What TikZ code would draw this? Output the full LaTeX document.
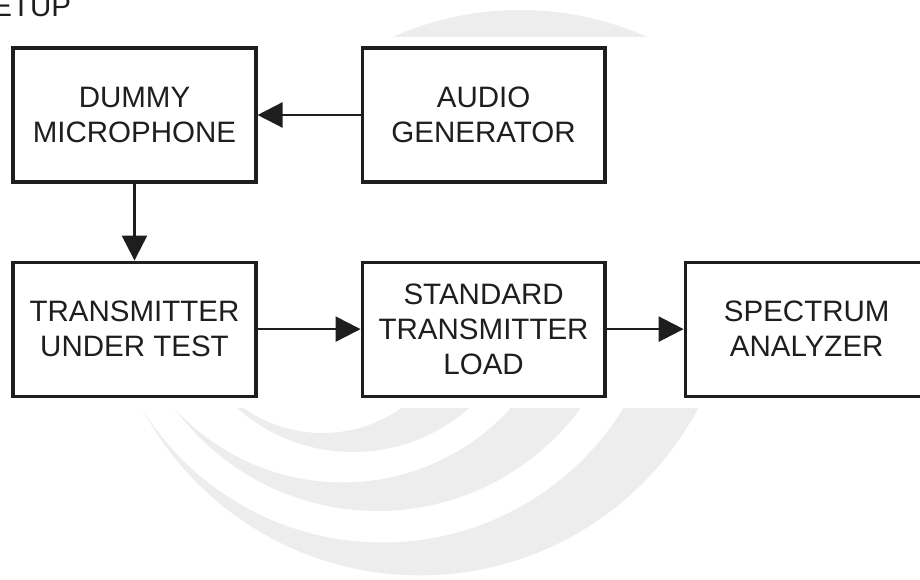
\documentclass[tikz,border=0pt]{standalone}
\usepackage{fontspec}
\setmainfont{Liberation Sans}
\usepackage{tikz}
\usetikzlibrary{positioning,arrows.meta}
\definecolor{ink}{HTML}{1E1E1E}
\definecolor{wmark}{HTML}{EDEDED}

\begin{document}
\begin{tikzpicture}[x=0.02cm,y=-0.02cm,node distance=1.54cm and 2.06cm,
  box/.style={draw=ink,line width=1.8pt,minimum width=4.86cm,minimum height=2.68cm,align=center,font=\fontsize{16.8}{20}\selectfont,text=ink},
  arr/.style={-{Triangle[length=5mm,width=5mm]},line width=1.4pt,ink}]
\clip (0,0) rectangle (920,580);
% watermark behind the set-up
\begin{scope}
\clip (0,409) rectangle (920,580);
\fill[wmark,even odd rule] (353,276.7) circle[radius=175.3] (322.5,296) circle[radius=137];
\fill[wmark,even odd rule] (377.5,259) circle[radius=252] (342.5,254.5) circle[radius=227.9];
\fill[wmark,even odd rule] (420,260.4) circle[radius=315] (382.5,259.2) circle[radius=283.3];
\end{scope}
\begin{scope}
\clip (0,0) rectangle (920,37);
\fill[wmark] (520,322) circle[radius=312];
\end{scope}
% blocks
\node[anchor=base west,inner sep=0pt,font=\fontsize{16.8}{20}\selectfont,text=ink] (title) at (-8,17) {ETUP};
\node[box] (dummy) at (134.5,115) {DUMMY\\MICROPHONE};
\node[box,right=of dummy] (audio) {AUDIO\\GENERATOR};
\node[box,below=of dummy] (tx) {TRANSMITTER\\UNDER TEST};
\node[box,right=of tx] (load) {STANDARD\\TRANSMITTER\\LOAD};
\node[box,right=1.54cm of load] (sa) {SPECTRUM\\ANALYZER};
\draw[arr] (audio) -- (dummy);
\draw[arr] (dummy) -- (tx);
\draw[arr] (tx) -- (load);
\draw[arr] (load) -- (sa);
\end{tikzpicture}
\end{document}
